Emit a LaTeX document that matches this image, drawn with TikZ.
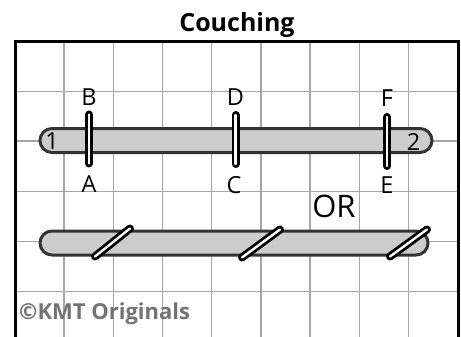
\documentclass[tikz,border=0pt]{standalone}
\usepackage{fontspec}
\setmainfont{Open Sans}
\begin{document}
\begin{tikzpicture}[x=1pt,y=-1pt,
  gridline/.style={draw=black!35,line width=1.4pt},
  frameline/.style={draw=black,line width=3pt},
  tube/.style={fill=black!20,draw=black!80,line width=3pt,rounded corners=12pt},
  stitchout/.style={draw=black,line width=8pt,line cap=round},
  stitchin/.style={draw=white,line width=2.4pt,line cap=round},
  lbl/.style={font=\fontsize{23.5}{23.5}\selectfont,inner sep=0pt},
  ttl/.style={font=\bfseries\fontsize{25}{25}\selectfont,inner sep=0pt},
]
\useasboundingbox (0,0) rectangle (461,337);
\fill[white] (0,0) rectangle (461,337);
% grid
\foreach \x in {64,113.2,162.4,211.6,260.8,310,359.2,408.4}
  \draw[gridline] (\x,42) -- (\x,337);
\foreach \y in {91.5,141,191.5,241.5,291.5}
  \draw[gridline] (15,\y) -- (458,\y);
% frame
\draw[frameline] (15,339) -- (15,42) -- (458,42) -- (458,339);
% title
\node[ttl] (title) at (237,25) {Couching};
% tube 1
\draw[tube] (40,128.5) rectangle (432,152.5);
\node[lbl] (n1) at (52,141.5) {1};
\node[lbl] (n2) at (413.5,141.5) {2};
% vertical stitches
\draw[stitchout] (89,114.5) -- (89,163.5);
\draw[stitchin] (89,114.5) -- (89,163.5);
\draw[stitchout] (235.5,115) -- (235.5,164);
\draw[stitchin] (235.5,115) -- (235.5,164);
\draw[stitchout] (387,117) -- (387,166);
\draw[stitchin] (387,117) -- (387,166);
\node[lbl] (B) at (89,97.5) {B};
\node[lbl] (A) at (89,184) {A};
\node[lbl] (D) at (235.5,97.5) {D};
\node[lbl] (C) at (234,185) {C};
\node[lbl] (F) at (387,98) {F};
\node[lbl] (E) at (387,185) {E};
% OR
\node[inner sep=0pt,font=\fontsize{31}{31}\selectfont] (or) at (334,206) {OR};
% tube 2
\draw[tube] (40,231) rectangle (428,255);
\draw[stitchout] (95,256.5) -- (130,228.5);
\draw[stitchin] (95,256.5) -- (130,228.5);
\draw[stitchout] (242,257.5) -- (280,229.5);
\draw[stitchin] (242,257.5) -- (280,229.5);
\draw[stitchout] (390,256.5) -- (427,229.5);
\draw[stitchin] (390,256.5) -- (427,229.5);
% copyright
\node[inner sep=0pt,anchor=west,text=black!55,font=\bfseries\fontsize{22}{22}\selectfont] (copy) at (19,314) {©KMT Originals};
\end{tikzpicture}
\end{document}
